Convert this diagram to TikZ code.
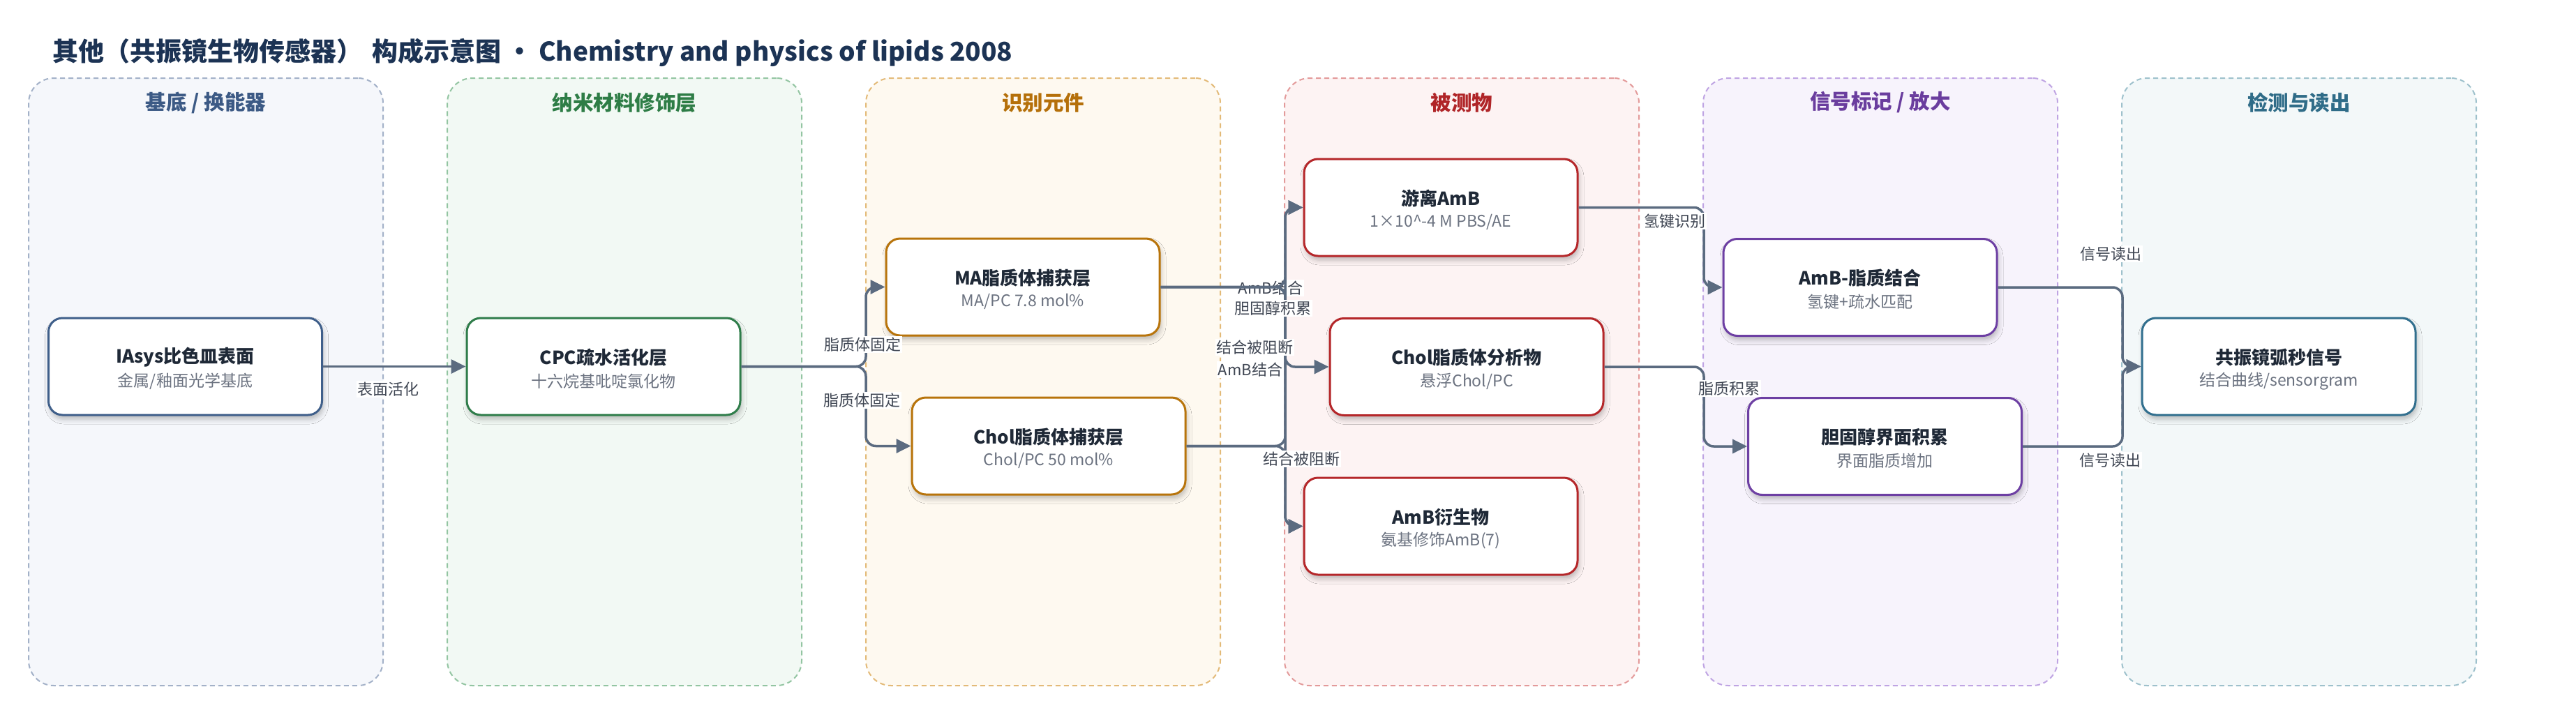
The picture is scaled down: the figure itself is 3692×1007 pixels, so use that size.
\documentclass[tikz,border=0pt]{standalone}
\usepackage{fontspec}
\setmainfont{Noto Sans CJK SC}
\usetikzlibrary{arrows.meta,shadows.blur,calc}
\definecolor{ink}{HTML}{1F2937}
\definecolor{subg}{HTML}{6B7280}
\definecolor{edgec}{HTML}{5B6B80}
\definecolor{lblc}{HTML}{3F4653}
\definecolor{titlec}{HTML}{1C3354}
\definecolor{laneAd}{HTML}{A3B1C8}\definecolor{laneAf}{HTML}{F5F7FB}\definecolor{laneAt}{HTML}{3C5A85}\definecolor{laneAb}{HTML}{3F5F8A}
\definecolor{laneBd}{HTML}{93C5A2}\definecolor{laneBf}{HTML}{F2F9F4}\definecolor{laneBt}{HTML}{2E7D46}\definecolor{laneBb}{HTML}{2F7D4A}
\definecolor{laneCd}{HTML}{E3BA78}\definecolor{laneCf}{HTML}{FEF9F0}\definecolor{laneCt}{HTML}{B5700A}\definecolor{laneCb}{HTML}{B8740B}
\definecolor{laneDd}{HTML}{E39A9A}\definecolor{laneDf}{HTML}{FDF3F3}\definecolor{laneDt}{HTML}{B02528}\definecolor{laneDb}{HTML}{B5272A}
\definecolor{laneEd}{HTML}{BFA4E3}\definecolor{laneEf}{HTML}{F7F3FC}\definecolor{laneEt}{HTML}{6A3D9E}\definecolor{laneEb}{HTML}{6D3FA3}
\definecolor{laneFd}{HTML}{9EC1CC}\definecolor{laneFf}{HTML}{F3F8F9}\definecolor{laneFt}{HTML}{2F6C88}\definecolor{laneFb}{HTML}{316F8E}
\newcommand{\flowbox}[6]{%
  \node[box=#4] (#1) at (#2,#3) {};
  \node[ttl] (#1t) at ($(#1.center)+(0,-13)$) {#5};
  \node[sub] (#1s) at ($(#1.center)+(0,21)$) {#6};}
\begin{document}
\begin{tikzpicture}[x=1pt,y=-1pt,
  lane/.style 2 args={draw=#1, fill=#2, line width=2pt, dash pattern=on 7pt off 5pt,
    rounded corners=36pt, minimum width=508pt, minimum height=871pt, inner sep=0pt},
  hdr/.style={font=\fontsize{29.5}{32}\selectfont\bfseries, text=#1, inner sep=0pt},
  box/.style={draw=#1, line width=3pt, fill=white, rounded corners=20pt,
    minimum width=392pt, minimum height=139pt, inner sep=0pt,
    blur shadow={shadow xshift=2pt, shadow yshift=-6pt, shadow blur radius=7pt, shadow opacity=25}},
  ttl/.style={font=\fontsize{26}{30}\selectfont\bfseries, text=ink, inner sep=0pt},
  sub/.style={font=\fontsize{23}{27}\selectfont, text=subg, inner sep=0pt},
  elbl/.style={font=\fontsize{22}{26}\selectfont, text=lblc, fill=white, inner sep=1.5pt},
  flow/.style={draw=edgec, line width=3.5pt, rounded corners=14pt, -{Triangle[length=21pt,width=20pt]}},
]
\useasboundingbox (0,0) rectangle (3692,1007);
\fill[white] (0,0) rectangle (3692,1007);

% title
\node[anchor=west, inner sep=0pt, font=\fontsize{37}{40}\selectfont\bfseries, text=titlec] (T) at (75,75.5)
  {其他（共振镜生物传感器）\hspace*{14pt}构成示意图 • Chemistry and physics of lipids 2008};

% lanes
\node[lane={laneAd}{laneAf}] (L1) at (295,547.5) {};
\node[lane={laneBd}{laneBf}] (L2) at (895,547.5) {};
\node[lane={laneCd}{laneCf}] (L3) at (1495,547.5) {};
\node[lane={laneDd}{laneDf}] (L4) at (2095,547.5) {};
\node[lane={laneEd}{laneEf}] (L5) at (2695,547.5) {};
\node[lane={laneFd}{laneFf}] (L6) at (3295,547.5) {};
\node[hdr=laneAt] (H1) at (295,147) {基底 / 换能器};
\node[hdr=laneBt] (H2) at (895,147) {纳米材料修饰层};
\node[hdr=laneCt] (H3) at (1495,147) {识别元件};
\node[hdr=laneDt] (H4) at (2095,147) {被测物};
\node[hdr=laneEt] (H5) at (2695,147) {信号标记 / 放大};
\node[hdr=laneFt] (H6) at (3295,147) {检测与读出};

% boxes
\flowbox{n1}{265.5}{525.5}{laneAb}{IAsys比色皿表面}{金属/釉面光学基底}
\flowbox{n2}{865}{525.5}{laneBb}{CPC疏水活化层}{十六烷基吡啶氯化物}
\flowbox{n3}{1466}{411.5}{laneCb}{MA脂质体捕获层}{MA/PC 7.8 mol\%}
\flowbox{n4}{1503}{639.5}{laneCb}{Chol脂质体捕获层}{Chol/PC 50 mol\%}
\flowbox{n5}{2065}{297.5}{laneDb}{游离AmB}{1×10\^{}-4 M PBS/AE}
\flowbox{n6}{2102}{526}{laneDb}{Chol脂质体分析物}{悬浮Chol/PC}
\flowbox{n7}{2065}{754.5}{laneDb}{AmB衍生物}{氨基修饰AmB(7)}
\flowbox{n8}{2666}{412}{laneEb}{AmB-脂质结合}{氢键+疏水匹配}
\flowbox{n9}{2701.5}{640}{laneEb}{胆固醇界面积累}{界面脂质增加}
\flowbox{n10}{3266}{525.5}{laneFb}{共振镜弧秒信号}{结合曲线/sensorgram}

% bus coordinates
\coordinate (bx1) at (1241,0);
\coordinate (bx2) at (1842,0);
\coordinate (bx3) at (2442,0);
\coordinate (bx4) at (3042,0);

\node[elbl] (l4) at (1821,413) {AmB结合};

% connectors
\draw[flow] (n1.east) -- (n2.west);
\draw[flow] (n2.east) -| (bx1 |- n3.west) -- (n3.west);
\draw[flow] (n2.east) -| (bx1 |- n4.west) -- (n4.west);
\draw[flow] (n3.east) -| (bx2 |- n5.west) -- (n5.west);
\draw[flow] (n3.east) -| (bx2 |- n6.west) -- (n6.west);
\draw[flow] (n3.east) -| (bx2 |- n7.west) -- (n7.west);
\draw[flow] (n4.east) -| (bx2 |- n5.west) -- (n5.west);
\draw[flow] (n4.east) -| (bx2 |- n7.west) -- (n7.west);
\draw[flow] (n5.east) -| (bx3 |- n8.west) -- (n8.west);
\draw[flow] (n6.east) -| (bx3 |- n9.west) -- (n9.west);
\draw[flow] (n8.east) -| (bx4 |- n10.west) -- (n10.west);
\draw[flow] (n9.east) -| (bx4 |- n10.west) -- (n10.west);

% connector labels
\node[elbl] (l1) at (556,558) {表面活化};
\node[elbl] (l2) at (1236,494) {脂质体固定};
\node[elbl] (l3) at (1235,574) {脂质体固定};
\node[elbl] (l5) at (1824,442) {胆固醇积累};
\node[elbl] (l6) at (1798,498) {结合被阻断};
\node[elbl] (l7) at (1792,530) {AmB结合};
\node[elbl] (l8) at (1865,658) {结合被阻断};
\node[elbl] (l9) at (2400,317) {氢键识别};
\node[elbl] (l10) at (2478,557) {脂质积累};
\node[elbl] (l11) at (3025,364) {信号读出};
\node[elbl] (l12) at (3024,660) {信号读出};
\end{tikzpicture}
\end{document}
